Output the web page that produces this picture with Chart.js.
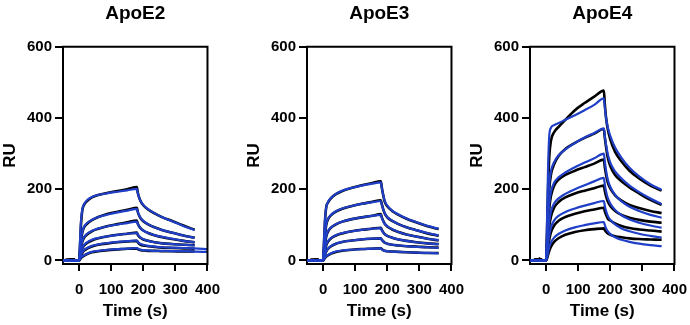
<!DOCTYPE html>
<html>
<head>
<meta charset="utf-8">
<script src="https://cdn.jsdelivr.net/npm/chart.js@4.4.1/dist/chart.umd.min.js"></script>
<style>
    body { margin: 0; background: #fff; overflow: hidden; }
    #wrap { position: relative; width: 690px; height: 325px; }
    canvas { position: absolute; top: 0; }
</style>
</head>
<body>
<div id="wrap">
    <canvas id="chartE2" width="230" height="325" style="left:0px"></canvas>
    <canvas id="chartE3" width="230" height="325" style="left:244px"></canvas>
    <canvas id="chartE4" width="230" height="325" style="left:467px"></canvas>
</div>
<script>
/* sample times (s) shared by every curve */
var timeS = [-50, -35, -20, -10, 0, 3, 6, 10, 15, 25, 40, 60, 90, 120, 150, 180,
             183, 187, 192, 200, 215, 235, 260, 290, 325, 360];
var tailTime = [400];

var xTicks = [0, 100, 200, 300, 400];
var yTicks = [0, 200, 400, 600];

/* ApoE2 - measured (black) and fitted (blue) responses, RU */
var e2Data = [
    [0, 1, 3, 0, 0, 40, 100, 140, 155, 167, 177, 184, 190, 195, 200, 206, 190, 177, 166, 155, 143, 132, 121, 111, 98, 86],
    [0, 1, 3, 0, 0, 25, 55, 78, 92, 103, 113, 122, 131, 137, 142, 148, 136, 126, 118, 110, 101, 93, 85, 78, 70, 64],
    [0, 1, 3, 0, 0, 15, 35, 52, 63, 73, 82, 89, 97, 102, 107, 112, 103, 96, 90, 84, 77, 71, 65, 60, 55, 51],
    [0, 1, 3, 0, 0, 9, 22, 33, 41, 49, 56, 62, 68, 72, 75, 78, 72, 67, 63, 59, 55, 51, 48, 46, 44, 43],
    [0, 1, 3, 0, 0, 6, 14, 21, 27, 33, 39, 44, 48, 51, 53, 55, 51, 47, 44, 42, 40, 38, 36, 35, 34, 33],
    [0, 1, 3, 0, 0, 3, 7, 10, 13, 18, 23, 26, 29, 31, 33, 34, 32, 30, 29, 28, 27, 27, 26, 26, 25, 25]
];
var e2Fit = [
    [0, 0, 0, 0, 0, 55, 110, 142, 157, 169, 178, 184, 189, 193, 197, 201, 189, 177, 166, 156, 144, 133, 121, 110, 97, 85],
    [0, 0, 0, 0, 0, 30, 60, 80, 94, 105, 114, 122, 129, 135, 140, 145, 136, 127, 119, 111, 102, 93, 85, 78, 70, 63],
    [0, 0, 0, 0, 0, 18, 38, 54, 65, 75, 83, 90, 96, 101, 105, 109, 103, 96, 90, 84, 77, 71, 66, 61, 55, 51],
    [0, 0, 0, 0, 0, 11, 24, 35, 43, 51, 58, 63, 68, 72, 75, 77, 73, 68, 64, 60, 55, 51, 48, 46, 44, 42],
    [0, 0, 0, 0, 0, 7, 16, 23, 29, 35, 41, 45, 49, 52, 54, 56, 52, 49, 46, 44, 41, 39, 37, 36, 35, 34],
    [0, 0, 0, 0, 0, 4, 8, 11, 14, 19, 24, 27, 30, 32, 33, 35, 33, 31, 30, 29, 28, 27, 27, 26, 26, 25]
];
var e2FitTail = [null, null, null, null, 32, 24];

/* ApoE3 */
var e3Data = [
    [0, 1, 2, 0, 0, 50, 110, 150, 162, 175, 186, 195, 204, 211, 217, 222, 205, 185, 165, 152, 139, 128, 117, 107, 96, 88],
    [0, 1, 2, 0, 0, 30, 70, 100, 115, 127, 137, 145, 153, 159, 164, 169, 158, 145, 132, 121, 111, 102, 93, 85, 76, 69],
    [0, 1, 2, 0, 0, 18, 45, 67, 80, 92, 101, 109, 116, 121, 125, 130, 121, 112, 103, 95, 87, 80, 73, 67, 61, 56],
    [0, 1, 2, 0, 0, 10, 27, 42, 52, 62, 70, 76, 82, 86, 89, 92, 86, 80, 74, 69, 64, 59, 55, 51, 48, 46],
    [0, 1, 2, 0, 0, 6, 16, 25, 32, 40, 47, 52, 56, 59, 61, 62, 58, 54, 50, 47, 44, 42, 40, 39, 37, 36],
    [0, 1, 2, 0, 0, 3, 7, 11, 14, 19, 24, 27, 30, 32, 33, 34, 32, 29, 27, 26, 25, 24, 23, 22, 21, 21]
];
var e3Fit = [
    [0, 0, 0, 0, 0, 60, 115, 150, 163, 176, 187, 196, 204, 210, 215, 219, 203, 185, 167, 154, 140, 129, 118, 108, 97, 89],
    [0, 0, 0, 0, 0, 35, 75, 102, 117, 128, 138, 146, 153, 159, 163, 167, 157, 145, 133, 122, 112, 102, 93, 85, 77, 70],
    [0, 0, 0, 0, 0, 22, 48, 69, 82, 93, 102, 109, 116, 121, 125, 128, 120, 111, 103, 96, 88, 80, 73, 67, 61, 57],
    [0, 0, 0, 0, 0, 12, 29, 44, 54, 63, 71, 77, 82, 86, 89, 91, 85, 79, 74, 69, 64, 59, 55, 51, 48, 45],
    [0, 0, 0, 0, 0, 7, 17, 26, 33, 41, 47, 52, 56, 59, 61, 62, 58, 54, 50, 47, 44, 42, 40, 38, 37, 35],
    [0, 0, 0, 0, 0, 4, 8, 12, 15, 20, 25, 28, 30, 32, 33, 34, 31, 29, 27, 26, 25, 24, 23, 22, 21, 20]
];

/* ApoE4 */
var e4Data = [
    [0, 1, 4, 0, 0, 80, 190, 290, 335, 360, 376, 395, 422, 442, 460, 477, 440, 400, 370, 340, 305, 278, 252, 230, 210, 196],
    [0, 1, 4, 0, 0, 50, 130, 200, 240, 270, 295, 313, 330, 344, 356, 369, 345, 318, 290, 265, 240, 222, 205, 188, 170, 156],
    [0, 1, 4, 0, 0, 30, 90, 145, 180, 210, 228, 240, 252, 262, 272, 283, 262, 240, 220, 202, 183, 168, 156, 147, 139, 133],
    [0, 1, 4, 0, 0, 18, 55, 95, 122, 148, 165, 177, 188, 196, 203, 210, 195, 180, 166, 153, 139, 128, 120, 114, 109, 106],
    [0, 1, 4, 0, 0, 10, 32, 58, 78, 98, 112, 122, 131, 138, 143, 148, 138, 128, 118, 112, 104, 97, 91, 87, 84, 81],
    [0, 1, 4, 0, 0, 5, 15, 27, 38, 52, 63, 72, 80, 85, 88, 90, 85, 80, 76, 72, 68, 65, 62, 60, 59, 58]
];
var e4Fit = [
    [0, 0, 0, 0, 0, 110, 250, 350, 372, 380, 386, 395, 408, 422, 437, 455, 430, 400, 375, 350, 317, 288, 260, 236, 214, 198],
    [0, 0, 0, 0, 0, 60, 150, 215, 250, 276, 296, 312, 330, 345, 358, 371, 350, 325, 300, 275, 250, 230, 210, 192, 174, 158],
    [0, 0, 0, 0, 0, 40, 105, 160, 192, 218, 234, 247, 262, 275, 287, 300, 278, 252, 228, 207, 184, 166, 151, 139, 128, 120],
    [0, 0, 0, 0, 0, 25, 70, 110, 137, 160, 175, 187, 200, 211, 222, 232, 213, 194, 176, 160, 142, 127, 115, 106, 98, 92],
    [0, 0, 0, 0, 0, 14, 42, 70, 92, 112, 126, 136, 146, 154, 161, 167, 153, 139, 126, 114, 101, 90, 82, 75, 69, 64],
    [0, 0, 0, 0, 0, 8, 22, 38, 50, 64, 75, 84, 93, 99, 104, 108, 99, 90, 82, 74, 65, 58, 52, 47, 43, 40]
];

var blackColor = "#000000";
var blueColor = "#1f3fc8";
var fontName = "'Liberation Sans', Arial, sans-serif";

/* draws the top and right sides of the box round the plot */
var framePlugin = {
    id: "frame",
    afterDraw: function (chart) {
        var a = chart.chartArea;
        var c = chart.ctx;
        c.save();
        c.strokeStyle = "#000";
        c.lineWidth = 2;
        c.beginPath();
        c.moveTo(a.left - 1, a.top);
        c.lineTo(a.right, a.top);
        c.lineTo(a.right, a.bottom + 1);
        c.stroke();
        c.restore();
    }
};

function toPoints(vals, tail) {
    var pts = [];
    for (var i = 0; i < timeS.length; i++) {
        pts.push({ x: timeS[i], y: vals[i] });
    }
    if (tail != null) {
        pts.push({ x: tailTime[0], y: tail });
    }
    return pts;
}

function makePanel(id, title, dataCurves, fitCurves, fitTails, padRight) {
    var sets = [];
    /* Chart.js paints the first dataset last, so the fits go first to sit on top */
    for (var j = 0; j < fitCurves.length; j++) {
        var tail = fitTails ? fitTails[j] : null;
        sets.push({ data: toPoints(fitCurves[j], tail), borderColor: blueColor, borderWidth: 2.2,
                    pointRadius: 0, fill: false, cubicInterpolationMode: "monotone" });
    }
    for (var i = 0; i < dataCurves.length; i++) {
        sets.push({ data: toPoints(dataCurves[i], null), borderColor: blackColor, borderWidth: 2.6,
                    pointRadius: 0, fill: false, cubicInterpolationMode: "monotone" });
    }

    new Chart(document.getElementById(id), {
        type: "line",
        data: { datasets: sets },
        options: {
            responsive: false,
            animation: false,
            layout: { padding: { left: 0, right: padRight, top: 0, bottom: 0 } },
            plugins: {
                legend: { display: false },
                tooltip: { enabled: false },
                title: {
                    display: true, text: title, fullSize: false, color: "#000",
                    font: { family: fontName, size: 19, weight: "bold" },
                    padding: { top: 2, bottom: 22 }
                }
            },
            scales: {
                x: {
                    type: "linear", min: -50, max: 400,
                    afterBuildTicks: function (s) { s.ticks = xTicks.map(function (v) { return { value: v }; }); },
                    afterFit: function (s) { s.height = 61; },
                    grid: { drawOnChartArea: false, color: "#000", lineWidth: 2, tickLength: 7 },
                    border: { color: "#000", width: 2 },
                    ticks: { color: "#000", padding: 10, maxRotation: 0, autoSkip: false,
                             font: { family: fontName, size: 15, weight: "bold" } },
                    title: { display: true, text: "Time (s)", color: "#000",
                             font: { family: fontName, size: 17, weight: "bold" },
                             padding: { top: 1, bottom: 3 } }
                },
                y: {
                    min: -10, max: 600,
                    afterBuildTicks: function (s) { s.ticks = yTicks.map(function (v) { return { value: v }; }); },
                    afterFit: function (s) { s.width = 63; },
                    grid: { drawOnChartArea: false, color: "#000", lineWidth: 2, tickLength: 8 },
                    border: { color: "#000", width: 2 },
                    ticks: { color: "#000", padding: 3,
                             font: { family: fontName, size: 15, weight: "bold" } },
                    title: { display: true, text: "RU", color: "#000",
                             font: { family: fontName, size: 17, weight: "bold" },
                             padding: { top: 0, bottom: 0 } }
                }
            }
        },
        plugins: [framePlugin]
    });
}

makePanel("chartE2", "ApoE2", e2Data, e2Fit, e2FitTail, 19);
makePanel("chartE3", "ApoE3", e3Data, e3Fit, null, 22);
makePanel("chartE4", "ApoE4", e4Data, e4Fit, null, 22);
</script>
</body>
</html>
